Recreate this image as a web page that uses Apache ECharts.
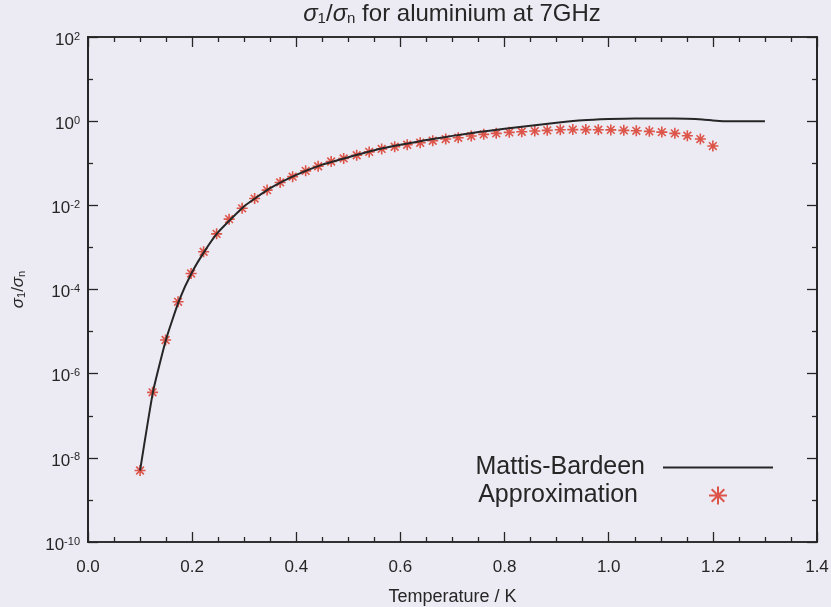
<!DOCTYPE html>
<html>
<head>
<meta charset="utf-8">
<title>sigma1/sigman aluminium 7GHz</title>
<script src="https://cdn.jsdelivr.net/npm/echarts@6/dist/echarts.min.js"></script>
<style>
  html, body { margin: 0; padding: 0; background: #ecebf3; }
  #chart { width: 831px; height: 607px; }
</style>
</head>
<body>
<div id="chart"></div>
<script>
  // Mattis-Bardeen curve (temperature in K, sigma1/sigman)
  const mbTemp = [0.1, 0.125, 0.15, 0.175, 0.2, 0.225, 0.25, 0.3, 0.35, 0.4, 0.45, 0.5, 0.55, 0.6, 0.65,
    0.7, 0.75, 0.8, 0.85, 0.9, 0.95, 1.0, 1.05, 1.1, 1.15, 1.18, 1.2, 1.22, 1.25, 1.3];
  const mbSigma = [5.0e-9, 3.8e-7, 6.6e-6, 5.5e-5, 2.6e-4, 8.5e-4, 2.3e-3, 9.5e-3, 0.0255, 0.053, 0.093, 0.139, 0.204, 0.275, 0.355,
    0.447, 0.55, 0.66, 0.776, 0.912, 1.047, 1.12, 1.16, 1.16, 1.135, 1.096, 1.035, 1.0, 1.0, 1.0];

  // approximation (asterisks)
  const approxTemp = [0.100, 0.124, 0.149, 0.173, 0.198, 0.222, 0.247, 0.271, 0.296, 0.320,
    0.344, 0.369, 0.393, 0.418, 0.442, 0.467, 0.491, 0.516, 0.540, 0.564,
    0.589, 0.613, 0.638, 0.662, 0.687, 0.711, 0.736, 0.760, 0.784, 0.809,
    0.833, 0.858, 0.882, 0.907, 0.931, 0.956, 0.980, 1.004, 1.029, 1.053,
    1.078, 1.102, 1.127, 1.151, 1.176, 1.200];
  const approxSigma = [5.0e-9, 3.6e-7, 6.3e-6, 5.1e-5, 2.4e-4, 7.9e-4, 2.1e-3, 4.7e-3, 8.5e-3, 0.0145,
    0.023, 0.035, 0.048, 0.066, 0.085, 0.11, 0.13, 0.155, 0.186, 0.219,
    0.247, 0.275, 0.307, 0.342, 0.376, 0.404, 0.443, 0.486, 0.513, 0.542,
    0.56, 0.582, 0.605, 0.625, 0.63, 0.63, 0.625, 0.62, 0.605, 0.59,
    0.573, 0.55, 0.513, 0.45, 0.376, 0.256];

  // ticks
  const yMajor = [1e-10, 1e-8, 1e-6, 1e-4, 1e-2, 1, 1e2];
  const yMinor = [1e-9, 1e-7, 1e-5, 1e-3, 1e-1, 1e1];

  const ink = '#262626';
  const red = '#d9301f';
  const font = 'Liberation Sans, Arial, Helvetica, sans-serif';
  const asterisk = 'path://M5,0L5,10M0,5L10,5M1.5,1.5L8.5,8.5M1.5,8.5L8.5,1.5';

  function sigmaRich(size) {
    return {
      n: { fontSize: size, fontFamily: font, fontWeight: 'normal', color: ink },
      i: { fontSize: size, fontFamily: font, fontWeight: 'normal', fontStyle: 'italic', color: ink },
      sub: {
        fontSize: Math.round(size * 0.62), fontFamily: font, fontWeight: 'normal', color: ink,
        verticalAlign: 'bottom', lineHeight: 12, padding: [Math.round(size * 0.4), 0, 0, 0]
      }
    };
  }

  function xAxis(pos, labels) {
    return {
      type: 'value', position: pos, min: 0, max: 1.4, interval: 0.2,
      name: labels ? 'Temperature / K' : '', nameLocation: 'middle', nameGap: 46,
      nameTextStyle: { fontSize: 18, fontFamily: font, color: ink },
      splitLine: { show: false },
      axisLine: { onZero: false, lineStyle: { color: ink, width: 1.6 } },
      axisTick: { inside: true, length: 10, lineStyle: { color: ink, width: 1.3 } },
      minorTick: { show: true, splitNumber: 4, length: 5, lineStyle: { color: ink, width: 1.3 } },
      axisLabel: {
        show: labels, margin: 17, fontSize: 17, fontFamily: font, color: ink,
        formatter: v => v.toFixed(1)
      }
    };
  }

  function yAxis(pos, major, labels) {
    return {
      type: 'log', logBase: 10, position: pos, offset: 0, min: 1e-10, max: 1e2,
      name: labels ? '{i|σ}{sub|1}{n|/}{i|σ}{sub|n}' : '',
      nameLocation: 'middle', nameGap: 61, nameRotate: 90,
      nameTextStyle: { rich: sigmaRich(17) },
      splitLine: { show: false },
      axisLine: { show: true, onZero: false, lineStyle: { color: ink, width: 1.6 } },
      axisTick: {
        show: true, inside: true, length: major ? 10 : 5, customValues: major ? yMajor : yMinor,
        lineStyle: { color: ink, width: 1.3 }
      },
      axisLabel: {
        show: labels, margin: 8, customValues: yMajor,
        formatter: v => '{b|10}{s|' + Math.round(Math.log10(v)) + '}',
        rich: {
          b: { fontSize: 17, fontFamily: font, color: ink, lineHeight: 22, padding: [6, 0, 0, 0] },
          s: { fontSize: 11, fontFamily: font, color: ink, verticalAlign: 'top', lineHeight: 12, padding: [5, 0, 0, 0] }
        }
      }
    };
  }

  const chart = echarts.init(document.getElementById('chart'));
  chart.setOption({
    backgroundColor: '#ecebf3',
    animation: false,
    title: {
      text: '{i|σ}{sub|1}{n|/}{i|σ}{sub|n}{n| for aluminium at 7GHz}',
      left: 452, top: 2, textAlign: 'center', padding: 0,
      textStyle: { fontWeight: 'normal', rich: sigmaRich(24) }
    },
    grid: {
      left: 88, right: 14, top: 37, bottom: 65, containLabel: false, outerBoundsMode: 'none',
      show: true, borderColor: ink, borderWidth: 1.6, backgroundColor: 'transparent'
    },
    legend: [
      {
        data: ['Mattis-Bardeen'], right: 52, top: 450, align: 'right', orient: 'vertical',
        itemWidth: 110, itemHeight: 14, selectedMode: false,
        itemStyle: { color: 'rgba(0,0,0,0)', borderWidth: 0, opacity: 0 },
        textStyle: { fontSize: 25, fontFamily: font, color: ink, padding: [0, 13, 0, 0] }
      },
      {
        data: ['Approximation'], right: 98, top: 478, align: 'right', orient: 'vertical',
        itemWidth: 110, itemHeight: 18, selectedMode: false,
        textStyle: { fontSize: 25, fontFamily: font, color: ink, padding: [0, 20, 0, 0] }
      }
    ],
    xAxis: [xAxis('bottom', true), xAxis('top', false)],
    yAxis: [yAxis('left', true, true), yAxis('right', true, false), yAxis('right', false, false), yAxis('left', false, false)],
    series: [
      {
        name: 'Mattis-Bardeen', type: 'line', xAxisIndex: 0, yAxisIndex: 0,
        symbol: 'none', smooth: 0.15,
        lineStyle: { color: ink, width: 2 },
        itemStyle: { color: ink },
        data: mbTemp.map((t, k) => [t, mbSigma[k]]),
        z: 3
      },
      {
        name: 'Approximation', type: 'scatter', xAxisIndex: 0, yAxisIndex: 0,
        symbol: asterisk, symbolSize: 11, symbolKeepAspect: true,
        itemStyle: { color: red, borderColor: red, borderWidth: 1.6 },
        data: approxTemp.map((t, k) => [t, approxSigma[k]]),
        z: 2
      }
    ]
  });
</script>
</body>
</html>
